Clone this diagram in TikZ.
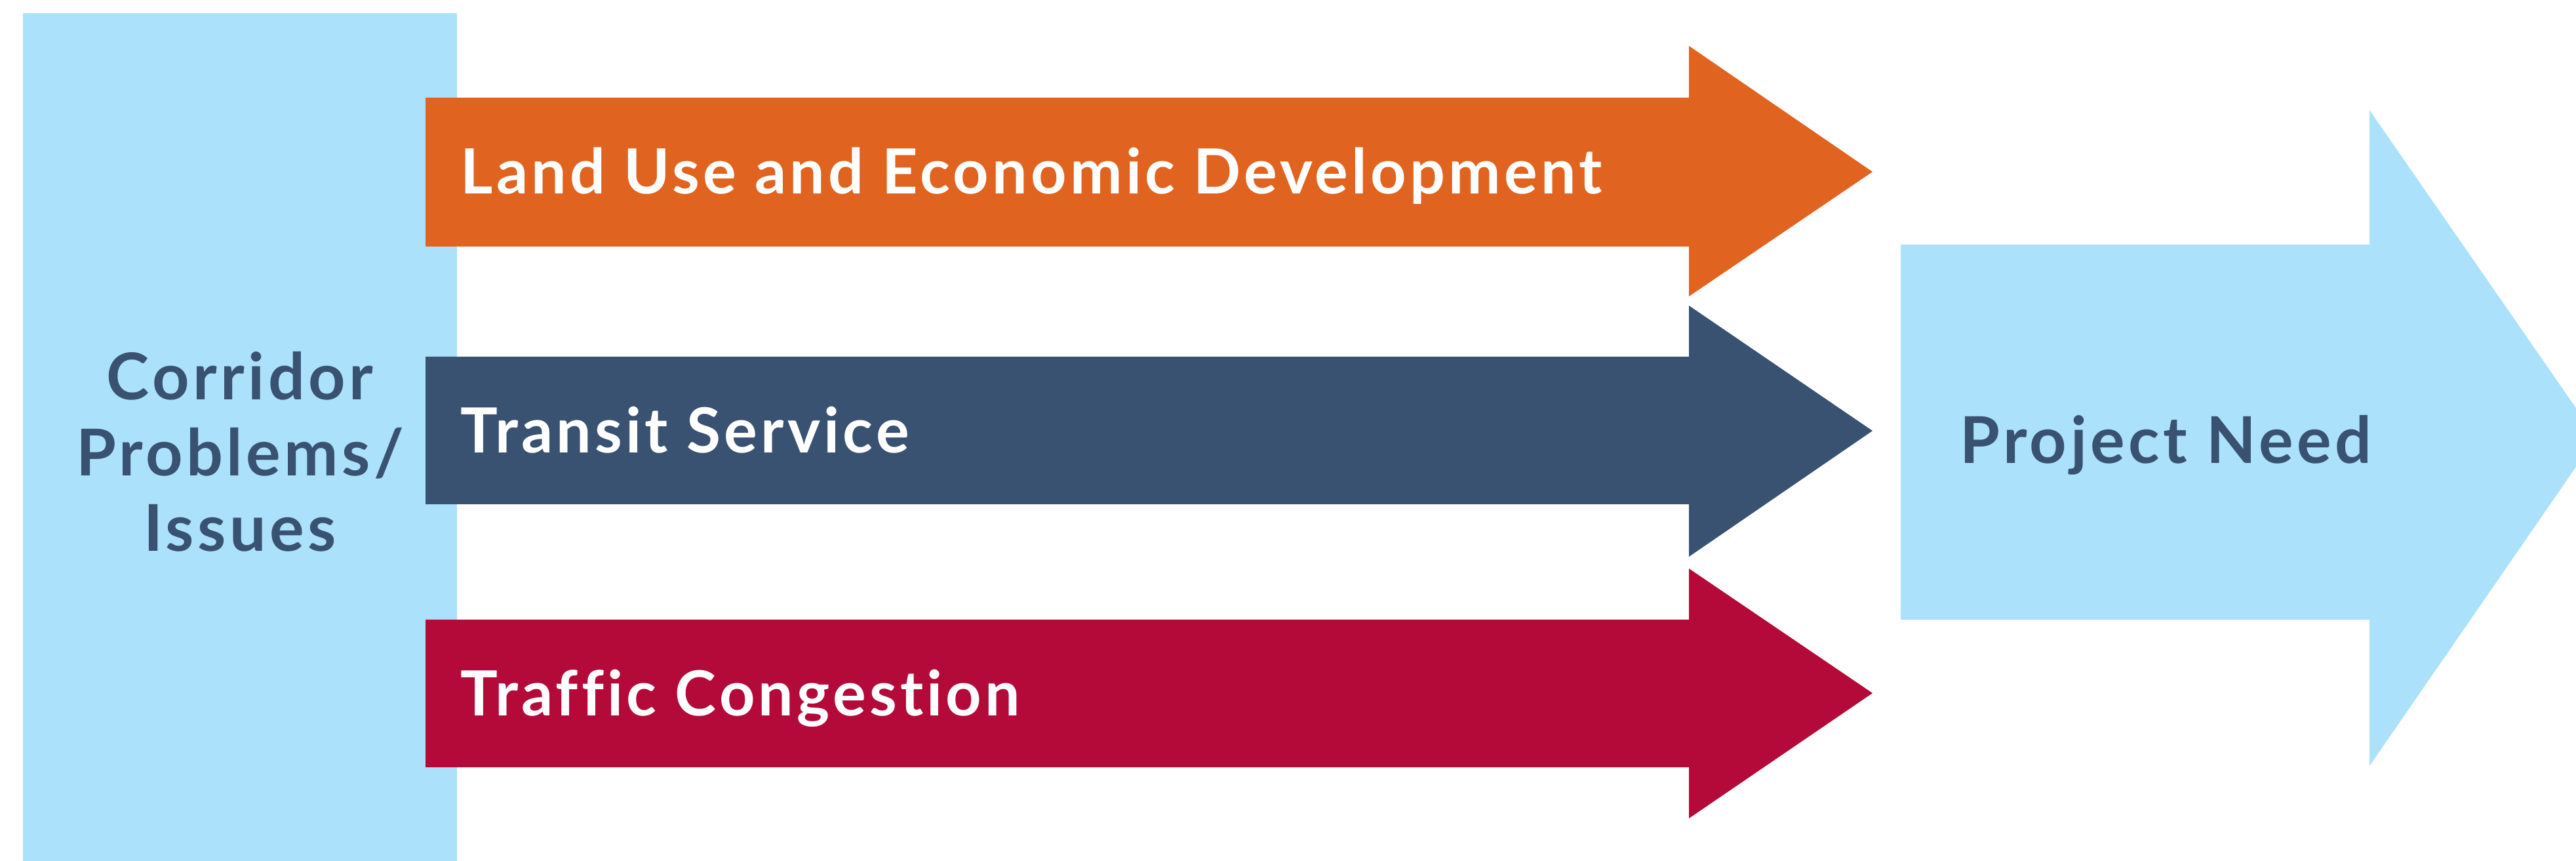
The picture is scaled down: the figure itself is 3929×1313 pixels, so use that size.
\documentclass[tikz,border=0pt]{standalone}
\usepackage{fontspec}
\setmainfont{Lato}
\newfontfamily\labelfont{Lato}[LetterSpace=5.5, Ligatures={NoCommon, NoRare}]
\definecolor{skyblue}{HTML}{ABE1FA}
\definecolor{landorange}{HTML}{E06420}
\definecolor{transitnavy}{HTML}{3A5272}
\definecolor{trafficred}{HTML}{B40A3A}
\begin{document}
\begin{tikzpicture}[x=0.01cm,y=-0.01cm]
\tikzset{label/.style = {font={\labelfont\bfseries\fontsize{27}{32}\selectfont}, text=white, anchor=base west, inner sep=0pt}}
\tikzset{title/.style = {font={\labelfont\bfseries\fontsize{28}{34}\selectfont}, text=transitnavy, inner sep=0pt}}
\useasboundingbox (0,0) rectangle (3929,1313);
% problems box on the left
\fill[skyblue] (35,20) rectangle (697,1313);
\node[title, anchor=base] (corridor) at (366,610) {Corridor};
\node[title, anchor=base] (problems) at (366,726) {Problems/};
\node[title, anchor=base] (issues) at (366,841) {Issues};
% big arrow on the right
\fill[skyblue] (2899,373) -- (3614,373) -- (3614,168) -- (3960,667) -- (3614,1168) -- (3614,945) -- (2899,945) -- cycle;
\node[title, anchor=base west] (need) at (2989,707) {Project Need};
% three arrows in the middle
\fill[landorange] (649,149) -- (2576,149) -- (2576,70) -- (2856,262) -- (2576,452) -- (2576,376) -- (649,376) -- cycle;
\fill[transitnavy] (649,544) -- (2576,544) -- (2576,466) -- (2856,657) -- (2576,849) -- (2576,769) -- (649,769) -- cycle;
\fill[trafficred] (649,945) -- (2576,945) -- (2576,867) -- (2856,1057) -- (2576,1248) -- (2576,1170) -- (649,1170) -- cycle;
\node[label] (land) at (702,296) {Land Use and Economic Development};
\node[label] (transit) at (702,691) {Transit Service};
\node[label] (traffic) at (702,1091) {Traffic Congestion};
\end{tikzpicture}
\end{document}
